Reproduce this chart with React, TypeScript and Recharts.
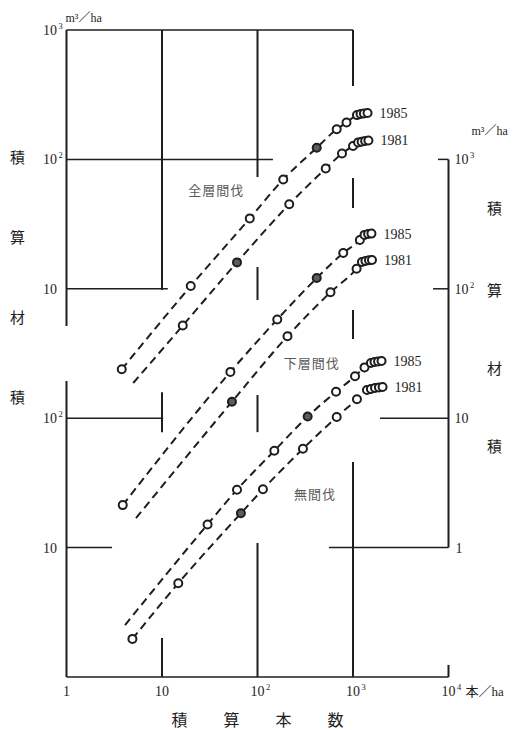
import React from "react";
import {
  ReferenceDot,
  ReferenceLine,
  Scatter,
  ScatterChart,
  XAxis,
  YAxis,
} from "recharts";

// [cumulative stems /ha, cumulative volume m3/ha, filled?]
type Pt = [number, number, number?];

// 全層間伐 (read on the upper left scale)
const ZENSO_1985: Pt[] = [
  [3.79, 2.39], [20, 10.5], [83, 35], [186, 70], [417, 123, 1], [675, 171], [855, 193],
  [1100, 220], [1200, 224], [1300, 226], [1420, 228],
];
const ZENSO_1981_START: Pt = [5.0, 1.87];
const ZENSO_1981: Pt[] = [
  [16.5, 5.2], [61, 16, 1], [215, 45], [518, 85], [767, 111], [1000, 127],
  [1130, 135], [1230, 137], [1340, 139], [1450, 140],
];

// 下層間伐 (read on the right scale)
const KASO_1985: Pt[] = [
  [3.88, 2.13], [52, 22.8], [161, 58], [417, 121, 1], [790, 189], [1180, 238],
  [1320, 261], [1440, 265], [1560, 267],
];
const KASO_1981_START: Pt = [5.34, 1.69];
const KASO_1981: Pt[] = [
  [54, 13.4, 1], [206, 43], [581, 94], [1090, 143],
  [1240, 161], [1350, 164], [1470, 166], [1580, 167],
];

// 無間伐 (read on the lower left scale)
const MUKAN_1985_START: Pt = [4.1, 2.52];
const MUKAN_1985: Pt[] = [
  [30, 15.1], [61, 28], [150, 56], [335, 103, 1], [664, 160], [1050, 211], [1320, 247],
  [1540, 267], [1680, 272], [1830, 274], [1990, 277],
];
const MUKAN_1981: Pt[] = [
  [4.9, 1.97], [14.8, 5.3], [67, 18.4, 1], [114, 28.2], [299, 58], [675, 102], [1100, 140],
  [1400, 165], [1540, 168], [1700, 171], [1870, 173], [2040, 174],
];

const GROUP_LABELS = [
  { text: "全層間伐", axis: "top", x: 37, y: 58 },
  { text: "下層間伐", axis: "mid", x: 370, y: 26.7 },
  { text: "無間伐", axis: "bot", x: 400, y: 25.5 },
];

const X_TICKS = [1, 10, 100, 1000, 10000];
const LEFT_TICKS_TOP = [10, 100, 1000];
const LEFT_TICKS_BOT = [10, 100];
const RIGHT_TICKS = [1, 10, 100, 1000];

const SERIES = [
  { axis: "top", year: "1985", pts: ZENSO_1985, start: null as Pt | null },
  { axis: "top", year: "1981", pts: ZENSO_1981, start: ZENSO_1981_START },
  { axis: "mid", year: "1985", pts: KASO_1985, start: null },
  { axis: "mid", year: "1981", pts: KASO_1981, start: KASO_1981_START },
  { axis: "bot", year: "1985", pts: MUKAN_1985, start: MUKAN_1985_START },
  { axis: "bot", year: "1981", pts: MUKAN_1981, start: null },
];

// broken frame / grid pieces: [axis, x1, y1, x2, y2]
const FRAME: [string, number, number, number, number][] = [
  ["top", 1, 1000, 1000, 1000],
  ["top", 1, 100, 145, 100],
  ["top", 1, 10, 11.5, 10],
  ["bot", 1, 100, 10.3, 100],
  ["bot", 1, 10, 3, 10],
  ["mid", 7760, 1000, 10000, 1000],
  ["mid", 6890, 100, 10000, 100],
  ["mid", 1920, 10, 10000, 10],
  ["mid", 561, 1, 10000, 1],
  ["top", 1, 5.16, 1, 1000],
  ["bot", 1, 1, 1, 194],
  ["mid", 10000, 1, 10000, 1000],
  ["bot", 10, 980, 10, 100000],
  ["bot", 10, 78, 10, 159],
  ["bot", 10, 1, 10, 2],
  ["bot", 100, 7310, 100, 100000],
  ["bot", 100, 819, 100, 1473],
  ["bot", 100, 78, 100, 151],
  ["bot", 100, 1, 100, 10.85],
  ["bot", 1000, 36900, 1000, 100000],
  ["bot", 1000, 4210, 1000, 7180],
  ["bot", 1000, 409, 1000, 686],
  ["bot", 1000, 1, 1000, 45.9],
  ["bot", 10000, 1, 10000, 1.24],
];

const INK = "#1e1e1e";
const SERIF = '"Liberation Serif", "DejaVu Serif", "Noto Sans CJK JP", serif';
const CJK = '"Noto Sans CJK JP", sans-serif';

const toRows = (arr: Pt[]) => arr.map(([x, y, f]) => ({ x, y, f: f === 1 }));

function PowText({ x, y, v, anchor }: { x: number; y: number; v: number; anchor: "start" | "middle" }) {
  const e = Math.round(Math.log10(v));
  const base = e === 0 ? "1" : "10";
  const x0 = anchor === "middle" ? x - (e === 0 ? 3.5 : 7) : x;
  return (
    <text x={x0} y={y} fontSize={14} fontFamily={SERIF} fill={INK}>
      {base}
      {e > 1 && (
        <tspan dy={-6} dx={1.5} fontSize={8.5}>
          {e}
        </tspan>
      )}
    </text>
  );
}

const XTick = (props: any) => {
  const { x, y, payload } = props;
  const v = payload.value as number;
  return (
    <g>
      <PowText x={x} y={y + 11} v={v} anchor="middle" />
      {v === 10000 && (
        <text x={x + 17} y={y + 11} fontSize={13} fontFamily={SERIF} fill={INK}>
          本／ha
        </text>
      )}
    </g>
  );
};

const XTitle = (props: any) => {
  const vb = props.viewBox;
  return (
    <text
      x={vb.x + vb.width / 2 + 5}
      y={vb.y + vb.height - 4}
      textAnchor="middle"
      fontSize={16}
      fontFamily={CJK}
      letterSpacing={10}
      fill={INK}
    >
      積　算　本　数
    </text>
  );
};

const Dot = (p: any) => (
  <circle
    cx={p.cx}
    cy={p.cy}
    r={4}
    fill={p.payload.f ? "#5c5c5c" : "#fff"}
    stroke={INK}
    strokeWidth={2}
  />
);

const LEFT_TITLE = [
  { ch: "積", top: 157 },
  { ch: "算", top: 237 },
  { ch: "材", top: 317 },
  { ch: "積", top: 397 },
];
const RIGHT_TITLE = [
  { ch: "積", top: 208 },
  { ch: "算", top: 290 },
  { ch: "材", top: 368 },
  { ch: "積", top: 446 },
];

function Stack({ items, left }: { items: { ch: string; top: number }[]; left: number }) {
  return (
    <>
      {items.map((it, i) => (
        <span
          key={i}
          style={{
            position: "absolute",
            left: left - 8,
            top: it.top - 11,
            fontFamily: CJK,
            fontSize: 15,
            lineHeight: "22px",
            color: INK,
          }}
        >
          {it.ch}
        </span>
      ))}
    </>
  );
}

export default function App() {
  return (
    <div style={{ position: "absolute", left: 0, top: 0, width: 521, height: 730, background: "#fff" }}>
      <ScatterChart width={521} height={730} margin={{ top: 30, right: 72.5, bottom: 0, left: 66.5 }}>
        <XAxis
          type="number"
          dataKey="x"
          scale="log"
          domain={[1, 10000]}
          allowDataOverflow
          ticks={X_TICKS}
          tick={<XTick />}
          tickLine={false}
          axisLine={{ stroke: INK, strokeWidth: 1.6 }}
          height={53}
          label={{ content: <XTitle /> }}
        />
        <YAxis yAxisId="top" type="number" dataKey="y" scale="log" domain={[0.01, 1000]} allowDataOverflow hide />
        <YAxis yAxisId="mid" type="number" dataKey="y" scale="log" domain={[0.1, 10000]} allowDataOverflow hide />
        <YAxis yAxisId="bot" type="number" dataKey="y" scale="log" domain={[1, 100000]} allowDataOverflow hide />

        {FRAME.map(([axis, x1, y1, x2, y2], i) => (
          <ReferenceLine
            key={`f${i}`}
            yAxisId={axis}
            segment={[{ x: x1, y: y1 }, { x: x2, y: y2 }]}
            stroke={INK}
            strokeWidth={x1 === x2 ? 2 : 1.5}
            ifOverflow="visible"
          />
        ))}

        {LEFT_TICKS_TOP.map((v) => (
          <ReferenceDot
            key={`lt${v}`}
            yAxisId="top"
            x={1}
            y={v}
            r={0}
            ifOverflow="visible"
            shape={(p: any) => <PowText x={p.cx - 23.5} y={p.cy + 5} v={v} anchor="start" />}
          />
        ))}
        {LEFT_TICKS_BOT.map((v) => (
          <ReferenceDot
            key={`lb${v}`}
            yAxisId="bot"
            x={1}
            y={v}
            r={0}
            ifOverflow="visible"
            shape={(p: any) => <PowText x={p.cx - 23.5} y={p.cy + 5} v={v} anchor="start" />}
          />
        ))}
        {RIGHT_TICKS.map((v) => (
          <ReferenceDot
            key={`r${v}`}
            yAxisId="mid"
            x={10000}
            y={v}
            r={0}
            ifOverflow="visible"
            shape={(p: any) =>
              v === 1 ? (
                <text x={p.cx + 7} y={p.cy + 5} fontSize={14} fontFamily={SERIF} fill={INK}>1</text>
              ) : (
                <PowText x={p.cx + 6} y={p.cy + 5} v={v} anchor="start" />
              )
            }
          />
        ))}
        <ReferenceDot
          yAxisId="top"
          x={1}
          y={1000}
          r={0}
          ifOverflow="visible"
          shape={(p: any) => (
            <text x={p.cx - 1} y={p.cy - 8} fontSize={12} fontFamily={SERIF} fill={INK}>
              m³／ha
            </text>
          )}
        />
        <ReferenceDot
          yAxisId="mid"
          x={10000}
          y={1000}
          r={0}
          ifOverflow="visible"
          shape={(p: any) => (
            <text x={p.cx + 23} y={p.cy - 24} fontSize={12} fontFamily={SERIF} fill={INK}>
              m³／ha
            </text>
          )}
        />

        {SERIES.map((s, i) => (
          <Scatter
            key={`c${i}`}
            yAxisId={s.axis}
            data={toRows(s.start ? [s.start, ...s.pts] : s.pts)}
            line={{ stroke: INK, strokeWidth: 2, strokeDasharray: "8 5" }}
            lineJointType="monotoneX"
            shape={() => <g />}
            isAnimationActive={false}
          />
        ))}
        {SERIES.map((s, i) => (
          <Scatter
            key={`d${i}`}
            yAxisId={s.axis}
            data={toRows(s.pts)}
            shape={Dot}
            isAnimationActive={false}
          />
        ))}
        {SERIES.map((s, i) => {
          const last = s.pts[s.pts.length - 1];
          return (
            <ReferenceDot
              key={`y${i}`}
              yAxisId={s.axis}
              x={last[0]}
              y={last[1]}
              r={0}
              ifOverflow="visible"
              shape={(p: any) => (
                <text x={p.cx + 12} y={p.cy + 5} fontSize={14} fontFamily={SERIF} fill={INK}>
                  {s.year}
                </text>
              )}
            />
          );
        })}
        {GROUP_LABELS.map((g) => (
          <ReferenceDot
            key={g.text}
            yAxisId={g.axis}
            x={g.x}
            y={g.y}
            r={0}
            ifOverflow="visible"
            shape={(p: any) => (
              <text
                x={p.cx}
                y={p.cy + 4.5}
                textAnchor="middle"
                fontSize={13}
                fontFamily={CJK}
                letterSpacing={1}
                fill="#5a5a5a"
              >
                {g.text}
              </text>
            )}
          />
        ))}
      </ScatterChart>
      <Stack items={LEFT_TITLE} left={18} />
      <Stack items={RIGHT_TITLE} left={495} />
    </div>
  );
}
